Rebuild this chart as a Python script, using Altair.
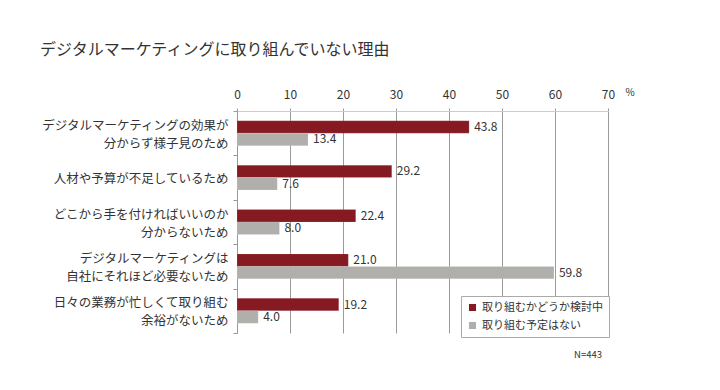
import altair as alt
import pandas as pd

categories = [
    "デジタルマーケティングの効果が|分からず様子見のため",
    "人材や予算が不足しているため",
    "どこから手を付ければいいのか|分からないため",
    "デジタルマーケティングは|自社にそれほど必要ないため",
    "日々の業務が忙しくて取り組む|余裕がないため",
]
series = ["取り組むかどうか検討中", "取り組む予定はない"]
considering = [43.8, 29.2, 22.4, 21.0, 19.2]
no_plan = [13.4, 7.6, 8.0, 59.8, 4.0]
x_ticks = [0, 10, 20, 30, 40, 50, 60, 70]
colors = ["#861a22", "#b0afab"]

rows = []
for c, a, b in zip(categories, considering, no_plan):
    rows.append({"cat": c, "series": series[0], "value": a})
    rows.append({"cat": c, "series": series[1], "value": b})
df = pd.DataFrame(rows)

FONT = "Noto Sans CJK JP"

y_enc = alt.Y(
    "cat:N",
    sort=categories,
    scale=alt.Scale(paddingInner=0, paddingOuter=0),
    axis=alt.Axis(
        title=None,
        labelExpr="split(datum.label, '|')",
        labelFontSize=12.5,
        labelLineHeight=18,
        labelColor="#333333",
        labelFont=FONT,
        labelPadding=5,
        labelOffset={"condition": {"test": "indexof(datum.label, '|') >= 0", "value": -8}, "value": 1},
        tickSize=4,
        tickColor="#999999",
        tickBand="extent",
        domainColor="#999999",
        grid=False,
        labelLimit=300,
    ),
)
yoff_enc = alt.YOffset(
    "series:N",
    sort=series,
    scale=alt.Scale(paddingInner=0, paddingOuter=0.78),
)
x_enc = alt.X(
    "value:Q",
    scale=alt.Scale(domain=[0, 70], nice=False),
    axis=alt.Axis(
        orient="top",
        values=x_ticks,
        title="%",
        titleX=388,
        titleY=-19,
        titleAngle=0,
        titleAlign="left",
        titleBaseline="middle",
        titleFontSize=10,
        titleFontWeight="normal",
        titleColor="#333333",
        titleFont=FONT,
        labelFontSize=12,
        labelColor="#333333",
        labelFont=FONT,
        labelPadding=7,
        tickSize=3,
        tickColor="#999999",
        domainColor="#cccccc",
        grid=True,
        gridColor="#9a9a9a",
        labelFlush=False,
    ),
)

bars = alt.Chart(df).mark_bar(stroke="#ffffff", strokeOpacity=0.25, strokeWidth=0.5).encode(
    x=x_enc,
    y=y_enc,
    yOffset=yoff_enc,
    color=alt.Color(
        "series:N",
        sort=series,
        scale=alt.Scale(domain=series, range=colors),
        legend=alt.Legend(
            title=None,
            orient="none",
            legendX=224,
            legendY=185,
            strokeColor="#aaaaaa",
            fillColor="#ffffff",
            padding=6,
            symbolType="square",
            symbolSize=50,
            symbolStrokeWidth=0,
            labelFontSize=11,
            labelFont=FONT,
            labelColor="#333333",
            rowPadding=6,
            labelOffset=4,
            labelLimit=300,
        ),
    ),
)

labels = alt.Chart(df).mark_text(
    align="left", baseline="middle", dx=5, fontSize=12, font=FONT, color="#333333"
).encode(
    x="value:Q",
    y=alt.Y("cat:N", sort=categories),
    yOffset=alt.YOffset("series:N", sort=series),
    text=alt.Text("value:Q", format=".1f"),
)

note = alt.Chart(pd.DataFrame({"t": ["N=443"]})).mark_text(
    fontSize=9.5, font=FONT, color="#333333", align="center", baseline="middle"
).encode(text="t:N", x=alt.value(351), y=alt.value(244))

chart = alt.layer(bars, labels, note).properties(
    width=371,
    height=222,
    autosize=alt.AutoSizeParams(type="none"),
    padding={"left": 229, "top": 103, "right": 104, "bottom": 49},
    title=alt.TitleParams(
        "デジタルマーケティングに取り組んでいない理由",
        anchor="start",
        frame="group",
        dx=-197,
        fontSize=16,
        font=FONT,
        fontWeight="normal",
        color="#333333",
        offset=29,
    ),
).configure_view(stroke=None)

chart.save("out.html", embed_options={"renderer": "svg", "actions": False})
